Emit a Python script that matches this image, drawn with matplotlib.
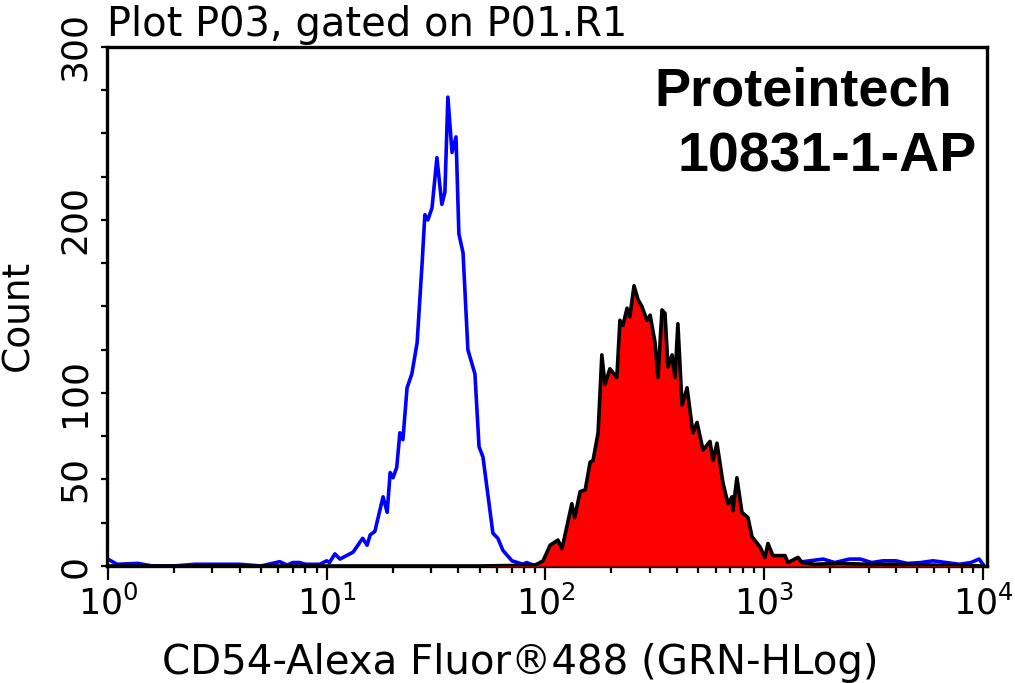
import matplotlib
matplotlib.use("Agg")
import matplotlib.pyplot as plt
from matplotlib.ticker import FixedLocator, NullFormatter

# data preperation
# control (blue line)
blue_x = [1.0, 1.1, 1.37, 1.6, 2.0, 2.5, 2.7, 2.9, 3.2, 3.6, 4.0, 5.0, 6.1, 6.6,
          7.0, 7.5, 8.0, 8.4, 9.3, 10.0, 10.3, 10.9, 11.5, 13.2, 14.6, 15.3,
          15.8, 16.6, 18.1, 18.9, 19.5, 20.1, 20.9, 21.6, 22.3, 23.3, 24.5,
          25.9, 27.3, 28.1, 29.0, 30.3, 31.9, 33.6, 34.7, 35.8, 37.4, 39.0,
          40.2, 42.0, 44.2, 47.6, 49.7, 51.8, 57.5, 60.6, 63.9, 70.3, 78.9,
          82, 88, 95, 110, 150, 300, 600, 1000, 1400, 1860, 2100, 2450, 2750,
          3100, 3500, 4000, 4500, 5200, 5900, 6800, 7800, 8800, 9600, 10000]
blue_y = [4, 1, 1.5, 0, 0, 1, 1, 1, 1, 1, 1, 0, 2.5, 0.5,
          2, 2, 1, 1, 1, 3, 2, 7, 4, 8, 16, 12,
          18, 20, 40, 31, 54, 51, 57, 77, 73, 103, 111,
          129, 175, 203, 200, 207, 236, 209, 216, 271, 239, 248,
          192, 181, 125, 111, 69, 63, 19, 16, 9, 3, 1,
          2, 0.5, 1.5, 0.5, 1, 1, 1, 1, 2, 4, 2, 4, 4,
          2, 3, 3, 1.5, 2, 3, 2, 1, 2, 4, 1]

# sample (red filled, black outline)
red_x = [1.0, 10, 50, 90, 97.5, 105, 114, 119, 132, 136, 144, 152, 160, 165,
         174, 181, 187, 197, 212, 219, 226, 236, 243, 254, 265, 276, 291, 301,
         317, 327, 341, 352, 363, 379, 391, 403, 421, 444, 472, 493, 525, 565,
         583, 608, 648, 683, 712, 719, 750, 791, 843, 879, 957, 1008, 1040,
         1096, 1245, 1284, 1427, 1488, 1700, 2200, 3000, 4000, 6000, 10000]
red_y = [0, 0, 0, 0.5, 3, 12, 15, 10, 36, 28, 43, 44, 60, 61,
         77, 122, 105, 114, 109, 142, 139, 149, 144, 162, 154, 150, 142, 145,
         129, 109, 148, 146, 115, 122, 109, 140, 93, 103, 77, 83, 67, 72,
         61, 71, 48, 36, 40, 32, 51, 31, 28, 17, 11, 5, 13,
         6, 6, 2, 5, 2, 1, 1.5, 1, 1, 0.5, 0]

xticks = [1, 10, 100, 1000, 10000]
xtick_labels = ['$10^{0}$', '$10^{1}$', '$10^{2}$', '$10^{3}$', '$10^{4}$']
yticks = [0, 50, 100, 200, 300]
ytick_minor = [25, 75, 125, 150, 175, 225, 250, 275]

plt.rcParams['font.family'] = ['DejaVu Sans']
plt.rcParams['mathtext.fontset'] = 'dejavusans'

# plot creation
fig = plt.figure(figsize=(10.15, 6.83), dpi=100)
ax = fig.add_axes([0.1054, 0.1713, 0.867, 0.760])

ax.plot(blue_x, blue_y, color='#0000ff', linewidth=2.6, zorder=2)
ax.fill_between(red_x, red_y, color='#ff0000', linewidth=0, zorder=3)
ax.plot(red_x, red_y, color='black', linewidth=2.6, zorder=4)

ax.set_xscale('log')
ax.set_xlim(0.99, 10430)
ax.set_ylim(0, 300)

ax.set_xticks(xticks)
ax.set_xticklabels(xtick_labels, fontsize=25)
ax.xaxis.set_minor_locator(FixedLocator(
    [m * 10 ** d for d in range(4) for m in range(2, 10)]))
ax.xaxis.set_minor_formatter(NullFormatter())

ax.set_yticks(yticks)
ax.set_yticklabels([str(v) for v in yticks], fontsize=26,
                   rotation=90, va='center')
ax.yaxis.set_minor_locator(FixedLocator(ytick_minor))

ax.tick_params(axis='x', which='major', length=10, width=1.6, pad=4)
ax.tick_params(axis='x', which='minor', length=5, width=1.6)
ax.tick_params(axis='y', which='both', length=4, width=1.6, pad=7)

for s in ax.spines.values():
    s.set_linewidth(2.4)

# texts
fig.text(0.105, 1 - 36 / 683, 'Plot P03, gated on P01.R1', fontsize=28.8,
         ha='left', va='baseline')
fig.text(520 / 1015, 1 - 674 / 683, 'CD54-Alexa Fluor®488 (GRN-HLog)',
         fontsize=29, ha='center', va='baseline')
fig.text(18 / 1015, 1 - 315 / 683, 'Count', fontsize=27, rotation=90,
         ha='center', va='center')
fig.text(952 / 1015, 1 - 105 / 683, 'Proteintech', fontsize=39,
         fontweight='bold', family='Liberation Sans', ha='right', va='baseline')
fig.text(977 / 1015, 1 - 172 / 683, '10831-1-AP', fontsize=40,
         fontweight='bold', family='Liberation Sans', ha='right', va='baseline')

# save plot
plt.savefig('out.png', dpi=100)
